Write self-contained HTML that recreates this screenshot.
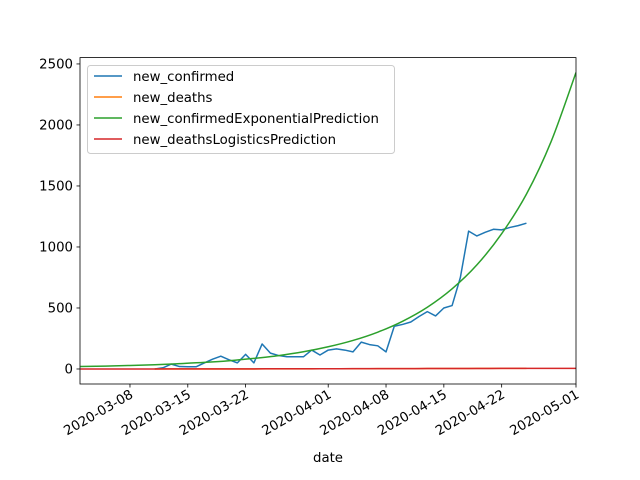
<!DOCTYPE html>
<html><head><meta charset="utf-8"><style>
body{margin:0;background:#fff}
svg{display:block;font-family:"DejaVu Sans","Liberation Sans",sans-serif}
</style></head><body>
<svg id="chart" width="640" height="480" viewBox="0 0 640 480">
<rect x="0" y="0" width="640" height="480" fill="#fff"/>
<g id="plot"></g>
<g id="axes"></g>
</svg>
<script>
// day offsets relative to 2020-03-08
const confirmedDays = [3,4,5,6,7,8,9,10,11,12,13,14,15,16,17,18,19,20,21,22,23,24,25,26,27,28,29,30,31,32,33,34,35,36,37,38,39,40,41,42,43,44,45,46,47,48];
const newConfirmed = [0,10,40,20,18,18,50,80,105,75,50,120,50,205,130,110,100,100,100,155,115,155,165,155,140,220,200,190,140,350,365,385,430,470,435,500,520,750,1130,1090,1120,1145,1140,1160,1175,1195];
const newDeaths = [0,0,0,0,0,0,0,0,0,0,0,0,0,1,1,1,1,1,1,1,2,2,2,2,2,2,2,3,3,3,3,3,3,4,4,4,4,4,4,5,5,5,5,5,5,5];
const predDays = [-6,-3,0,3,6,9,12,15,18,21,24,27,30,33,36,39,42,45,48,51,54];
const expPrediction = [20,24,29,35,44,54,68,87,110,141,182,234,302,391,506,657,853,1109,1433,1866,2430];
const logisticPrediction = [0,0,0,0,1,1,1,1,2,2,2,3,3,3,4,4,4,5,5,5,5];
const yTicks = [0,500,1000,1500,2000,2500];
const xTickDays = [0,7,14,24,31,38,45,54];
const xTickLabels = ["2020-03-08","2020-03-15","2020-03-22","2020-04-01","2020-04-08","2020-04-15","2020-04-22","2020-05-01"];

const L=80,R=576,T=57.6,B=384;
const xMin=-6.05,xMax=54,yMin=-123,yMax=2552;
const X=d=>L+(d-xMin)/(xMax-xMin)*(R-L);
const Y=v=>B-(v-yMin)/(yMax-yMin)*(B-T);
const NS="http://www.w3.org/2000/svg";
const plot=document.getElementById('plot'),axes=document.getElementById('axes');
function mk(tag,attrs,parent){const e=document.createElementNS(NS,tag);for(const k in attrs)e.setAttribute(k,attrs[k]);parent.appendChild(e);return e;}

function linePath(xs,ys){return xs.map((d,i)=>(i?'L':'M')+X(d).toFixed(2)+','+Y(ys[i]).toFixed(2)).join('');}
function smoothPath(xs,ys){
  const p=xs.map((d,i)=>[X(d),Y(ys[i])]);let s='M'+p[0][0]+','+p[0][1];
  for(let i=0;i<p.length-1;i++){const p0=p[Math.max(0,i-1)],p1=p[i],p2=p[i+1],p3=p[Math.min(p.length-1,i+2)];
    s+='C'+(p1[0]+(p2[0]-p0[0])/6)+','+(p1[1]+(p2[1]-p0[1])/6)+' '+(p2[0]-(p3[0]-p1[0])/6)+','+(p2[1]-(p3[1]-p1[1])/6)+' '+p2[0]+','+p2[1];}
  return s;}
const clip=mk('clipPath',{id:'c'},plot);mk('rect',{x:L,y:T,width:R-L,height:B-T},clip);
const g=mk('g',{'clip-path':'url(#c)'},plot);
let e;
e=mk('path',{d:linePath(confirmedDays,newConfirmed),fill:'none',stroke:'#1f77b4','stroke-width':1.5,'stroke-linejoin':'round'},g);


e=mk('path',{d:linePath(confirmedDays,newDeaths),fill:'none',stroke:'#ff7f0e','stroke-width':1.5},g);


e=mk('path',{d:smoothPath(predDays,expPrediction),fill:'none',stroke:'#2ca02c','stroke-width':1.5},g);


e=mk('path',{d:smoothPath(predDays,logisticPrediction),fill:'none',stroke:'#d62728','stroke-width':1.5},g);



mk('rect',{x:L,y:T,width:R-L,height:B-T,fill:'none',stroke:'#000','stroke-width':0.8},axes);
yTicks.forEach(v=>{const y=Y(v);mk('line',{x1:L-3.5,x2:L,y1:y,y2:y,stroke:'#000','stroke-width':0.8},axes);
  const t=mk('text',{x:L-7,y:y+4.5,'text-anchor':'end','font-size':13.3},axes);t.textContent=v;
  
  });
xTickDays.forEach((d,i)=>{const x=X(d);mk('line',{x1:x,x2:x,y1:B,y2:B+3.5,stroke:'#000','stroke-width':0.8},axes);
  const t=mk('text',{x:0,y:0,'text-anchor':'end','font-size':13.3,transform:`translate(${x+4},${B+13}) rotate(-30)`},axes);t.textContent=xTickLabels[i];
  
  });
e=mk('text',{x:328,y:462,'text-anchor':'middle','font-size':13.3},axes);e.textContent='date';



const lg=mk('g',{},axes);


mk('rect',{x:87.5,y:65.5,width:307,height:88,rx:3,fill:'#fff','fill-opacity':0.8,stroke:'#ccc'},lg);
const names=['new_confirmed','new_deaths','new_confirmedExponentialPrediction','new_deathsLogisticsPrediction'];
const cols=['#1f77b4','#ff7f0e','#2ca02c','#d62728'];
names.forEach((n,i)=>{const y=76+i*21;mk('line',{x1:94,x2:122,y1:y,y2:y,stroke:cols[i],'stroke-width':1.5},lg);
  const t=mk('text',{x:133,y:y+5,'font-size':13.3},lg);t.textContent=n;
  
  });
</script>
</body></html>
